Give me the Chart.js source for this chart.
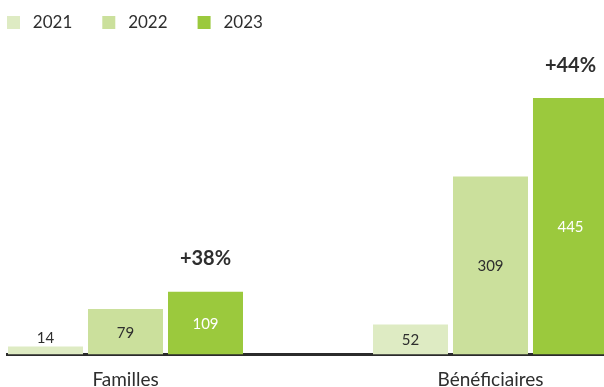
<!DOCTYPE html>
<html>
<head>
<meta charset="utf-8">
<script src="https://cdn.jsdelivr.net/npm/chart.js@4"></script>
<style>
  html, body { margin: 0; padding: 0; background: #fff; }
  #wrap { width: 604px; height: 387px; }
</style>
</head>
<body>
<div id="wrap"><canvas id="chart"></canvas></div>
<script>
// Familles / Bénéficiaires, 2021-2023
const categories = ['Familles', 'Bénéficiaires'];
const years = ['2021', '2022', '2023'];
const values2021 = [14, 52];
const values2022 = [79, 309];
const values2023 = [109, 445];
const growth = ['+38%', '+44%'];

const colors = ['#deebc3', '#cbe09c', '#9bc93d'];
const textDark = '#2e2e2e';
const FONT = 'Lato, "Open Sans", sans-serif';

function toPoints(values) {
    return values.map((v, i) => ({ x: i, y: v }));
}

// Value labels inside bars (or above when the bar is too short) + growth labels
const barLabels = {
    id: 'barLabels',
    afterDatasetsDraw(chart) {
        const ctx = chart.ctx;
        ctx.save();
        ctx.textAlign = 'center';
        ctx.textBaseline = 'middle';
        chart.data.datasets.forEach((ds, di) => {
            const meta = chart.getDatasetMeta(di);
            meta.data.forEach((bar, i) => {
                const value = ds.data[i].y;
                const h = bar.base - bar.y;
                ctx.font = '15px ' + FONT;
                if (h > 20) {
                    ctx.fillStyle = di === 2 ? '#ffffff' : textDark;
                    ctx.fillText(value, bar.x, (bar.y + bar.base) / 2 + 1);
                } else {
                    ctx.fillStyle = textDark;
                    ctx.fillText(value, bar.x, bar.y - 8);
                }
                if (di === chart.data.datasets.length - 1) {
                    ctx.font = 'bold 20px ' + FONT;
                    ctx.fillStyle = textDark;
                    ctx.fillText(growth[i], bar.x, bar.y - 33);
                }
            });
        });
        ctx.restore();
    }
};

const ctx = document.getElementById('chart').getContext('2d');
const chart = new Chart(ctx, {
    type: 'bar',
    data: {
        datasets: [
            { label: years[0], data: toPoints(values2021), backgroundColor: colors[0] },
            { label: years[1], data: toPoints(values2022), backgroundColor: colors[1] },
            { label: years[2], data: toPoints(values2023), backgroundColor: colors[2] }
        ]
    },
    options: {
        responsive: true,
        maintainAspectRatio: false,
        animation: false,
        categoryPercentage: 0.6575,
        barPercentage: 0.9375,
        layout: {
            padding: { left: -23, top: -16, right: 0, bottom: -18.5 }
        },
        plugins: {
            legend: {
                position: 'top',
                align: 'start',
                labels: {
                    boxWidth: 13,
                    boxHeight: 13,
                    padding: 30,
                    color: textDark,
                    font: { family: FONT, size: 17 },
                    // a little more room between the swatch and the year
                    generateLabels(chart) {
                        return Chart.defaults.plugins.legend.labels.generateLabels(chart)
                            .map(item => Object.assign(item, { text: ' ' + item.text }));
                    }
                }
            },
            tooltip: { enabled: false }
        },
        scales: {
            x: {
                type: 'linear',
                offset: false,
                min: -0.3247,
                max: 1.311,
                z: 1,
                afterBuildTicks(scale) {
                    scale.ticks = categories.map((c, i) => ({ value: i }));
                },
                ticks: {
                    padding: 16,
                    color: textDark,
                    font: { family: FONT, size: 19, lineHeight: 1 },
                    callback: (value) => categories[value]
                },
                grid: { display: false, drawTicks: false, offset: false },
                border: { display: true, color: '#2b2b2b', width: 3 }
            },
            y: {
                min: 0,
                max: 544,
                afterFit(scale) {
                    scale.width = 30;
                },
                ticks: { display: false },
                grid: { display: false, drawTicks: false },
                border: { display: false }
            }
        }
    },
    plugins: [barLabels]
});
</script>
</body>
</html>
